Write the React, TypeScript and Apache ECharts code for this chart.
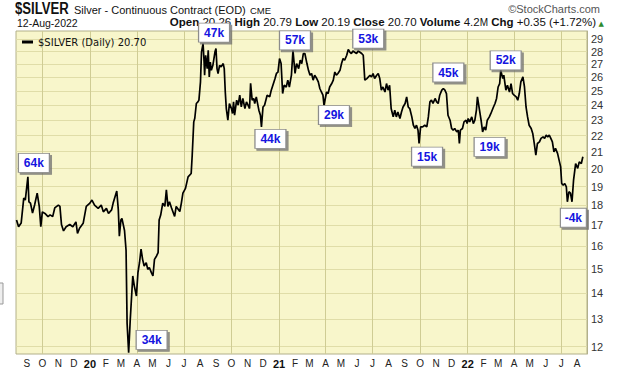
import React, { useEffect, useRef } from 'react';
import * as echarts from 'echarts';

const dates = [
  '2019-08-12','2019-08-16','2019-08-21','2019-08-26','2019-08-29','2019-09-03','2019-09-05','2019-09-08','2019-09-12','2019-09-16',
  '2019-09-21','2019-09-25','2019-09-28','2019-10-01','2019-10-06','2019-10-12','2019-10-16','2019-10-21','2019-10-25','2019-11-01',
  '2019-11-04','2019-11-07','2019-11-11','2019-11-16','2019-11-23','2019-11-29','2019-12-05','2019-12-08','2019-12-12','2019-12-19',
  '2019-12-25','2020-01-01','2020-01-05','2020-01-10','2020-01-17','2020-01-23','2020-01-27','2020-02-02','2020-02-06','2020-02-12',
  '2020-02-15','2020-02-22','2020-02-25','2020-02-27','2020-03-01','2020-03-03','2020-03-08','2020-03-11','2020-03-13','2020-03-16',
  '2020-03-19','2020-03-24','2020-03-27','2020-03-31','2020-04-03','2020-04-06','2020-04-09','2020-04-12','2020-04-15','2020-04-19',
  '2020-04-22','2020-04-25','2020-04-29','2020-05-02','2020-05-05','2020-05-09','2020-05-12','2020-05-14','2020-05-17','2020-05-21',
  '2020-05-25','2020-05-28','2020-05-31','2020-06-03','2020-06-07','2020-06-13','2020-06-16','2020-06-23','2020-06-26','2020-06-29',
  '2020-07-04','2020-07-09','2020-07-15','2020-07-17','2020-07-20','2020-07-22','2020-07-25','2020-07-28','2020-07-30','2020-08-02',
  '2020-08-04','2020-08-07','2020-08-09','2020-08-10','2020-08-12','2020-08-15','2020-08-17','2020-08-19','2020-08-21','2020-08-23',
  '2020-08-26','2020-08-30','2020-09-01','2020-09-03','2020-09-05','2020-09-08','2020-09-11','2020-09-15','2020-09-17','2020-09-19',
  '2020-09-21','2020-09-24','2020-09-27','2020-10-01','2020-10-03','2020-10-05','2020-10-07','2020-10-11','2020-10-14','2020-10-17',
  '2020-10-20','2020-10-23','2020-10-27','2020-10-30','2020-11-02','2020-11-05','2020-11-07','2020-11-10','2020-11-13','2020-11-15',
  '2020-11-18','2020-11-23','2020-11-26','2020-11-28','2020-12-01','2020-12-04','2020-12-09','2020-12-14','2020-12-17','2020-12-24',
  '2020-12-27','2020-12-30','2021-01-02','2021-01-05','2021-01-08','2021-01-11','2021-01-15','2021-01-18','2021-01-21','2021-01-25',
  '2021-01-28','2021-02-01','2021-02-04','2021-02-08','2021-02-11','2021-02-14','2021-02-17','2021-02-20','2021-02-24','2021-02-27',
  '2021-03-02','2021-03-05','2021-03-08','2021-03-11','2021-03-15','2021-03-18','2021-03-21','2021-03-24','2021-03-27','2021-03-29',
  '2021-04-03','2021-04-06','2021-04-09','2021-04-13','2021-04-16','2021-04-19','2021-04-22','2021-04-25','2021-04-29','2021-05-02',
  '2021-05-05','2021-05-08','2021-05-12','2021-05-15','2021-05-18','2021-05-21','2021-05-24','2021-05-31','2021-06-03','2021-06-06',
  '2021-06-10','2021-06-13','2021-06-16','2021-06-20','2021-06-26','2021-06-29','2021-07-02','2021-07-05','2021-07-09','2021-07-12',
  '2021-07-15','2021-07-18','2021-07-21','2021-07-25','2021-07-28','2021-07-31','2021-08-03','2021-08-06','2021-08-10','2021-08-13',
  '2021-08-16','2021-08-19','2021-08-23','2021-08-26','2021-08-29','2021-09-02','2021-09-05','2021-09-08','2021-09-11','2021-09-15',
  '2021-09-18','2021-09-21','2021-09-24','2021-09-27','2021-09-29','2021-10-02','2021-10-06','2021-10-10','2021-10-14','2021-10-17',
  '2021-10-20','2021-10-23','2021-10-26','2021-10-30','2021-11-02','2021-11-05','2021-11-08','2021-11-12','2021-11-15','2021-11-18',
  '2021-11-21','2021-11-24','2021-11-28','2021-12-01','2021-12-04','2021-12-07','2021-12-11','2021-12-14','2021-12-16','2021-12-18',
  '2021-12-22','2021-12-25','2021-12-29','2021-12-31','2022-01-02','2022-01-05','2022-01-09','2022-01-12','2022-01-15','2022-01-18',
  '2022-01-20','2022-01-23','2022-01-27','2022-01-30','2022-02-02','2022-02-05','2022-02-08','2022-02-12','2022-02-15','2022-02-20',
  '2022-02-23','2022-02-26','2022-03-01','2022-03-04','2022-03-06','2022-03-10','2022-03-12','2022-03-16','2022-03-19','2022-03-23',
  '2022-03-26','2022-03-29','2022-04-01','2022-04-05','2022-04-08','2022-04-11','2022-04-14','2022-04-18','2022-04-21','2022-04-24',
  '2022-04-27','2022-04-30','2022-05-04','2022-05-07','2022-05-10','2022-05-13','2022-05-16','2022-05-20','2022-05-23','2022-05-27',
  '2022-05-30','2022-06-02','2022-06-05','2022-06-08','2022-06-11','2022-06-14','2022-06-17','2022-06-20','2022-06-24','2022-06-27',
  '2022-06-30','2022-07-02','2022-07-05','2022-07-08','2022-07-11','2022-07-13','2022-07-16','2022-07-19','2022-07-22','2022-07-25',
  '2022-07-29','2022-08-02','2022-08-05','2022-08-09','2022-08-12'
];

const prices = [
  17.26,16.93,17.11,18.38,18.28,19.54,18.19,18.12,17.61,18.02,
  18.65,17.95,16.93,17.67,17.59,17.43,17.52,17.43,17.87,18.02,
  17.95,17.04,16.73,16.93,17.04,16.93,17.17,16.61,16.86,17.10,
  17.95,18.12,18.28,18.02,17.85,18.02,17.67,17.85,17.59,17.77,
  18.12,18.76,17.77,16.48,17.26,17.34,16.75,15.82,12.83,11.79,
  12.93,14.70,14.28,13.88,14.84,15.27,15.88,15.42,15.13,15.27,
  14.98,15.06,14.84,14.70,15.42,15.57,15.72,17.26,17.51,18.12,
  17.95,18.82,17.95,18.19,17.87,17.44,17.95,17.69,18.12,18.65,
  18.90,19.54,19.73,20.79,22.88,23.12,24.12,24.23,24.35,25.66,
  27.96,28.65,27.17,26.16,27.70,26.66,28.10,26.03,27.17,26.53,
  26.91,27.96,28.24,26.66,26.29,26.91,26.79,27.05,26.66,24.93,
  23.77,22.99,24.12,23.77,23.44,24.23,23.32,24.35,24.00,24.70,
  23.88,24.47,23.77,24.23,24.00,23.77,25.56,24.35,24.47,24.12,
  24.58,23.66,23.32,22.55,23.88,24.00,24.70,24.58,25.06,25.87,
  26.29,26.40,27.44,27.05,24.82,25.42,25.29,25.79,25.29,26.16,
  28.10,26.29,27.05,26.66,27.31,27.05,27.84,27.84,27.05,26.53,
  26.16,26.29,25.79,26.16,25.91,25.66,25.18,24.93,24.70,24.00,
  24.93,24.82,25.29,25.54,25.79,26.40,26.16,26.29,26.53,27.05,
  27.44,27.31,27.70,28.16,27.96,27.84,28.04,27.84,28.04,27.96,
  27.84,27.70,25.79,25.91,26.16,26.03,26.29,25.91,26.16,26.29,
  25.91,25.06,25.29,24.93,25.54,25.06,25.42,23.77,23.21,23.66,
  23.21,23.54,23.10,23.54,23.88,24.12,24.58,23.88,23.77,23.21,
  22.66,22.45,22.66,22.34,21.50,22.55,22.55,22.66,22.55,23.21,
  24.23,24.35,24.12,24.47,24.23,24.12,24.70,25.06,25.18,25.06,
  24.82,23.32,22.99,22.45,22.34,22.45,22.23,22.34,21.50,22.34,
  22.45,22.88,22.99,22.77,23.10,22.88,23.21,22.77,22.99,23.66,
  24.58,23.88,22.99,22.23,22.55,22.34,22.99,23.21,23.44,23.88,
  24.12,24.47,25.29,25.54,26.53,25.91,26.16,25.06,25.42,24.93,
  25.54,24.82,24.70,24.58,24.35,24.82,25.66,26.03,25.29,23.88,
  23.21,22.66,22.45,22.13,21.50,20.79,21.50,21.60,21.82,21.92,
  21.82,22.02,21.92,22.02,21.82,21.60,20.99,21.20,20.90,20.50,
  20.11,19.17,19.08,19.17,18.99,18.19,18.72,18.65,18.19,19.36,
  20.30,20.02,20.40,20.30,20.70
];

const yTickLabels = [12, 13, 14, 15, 16, 17, 18, 19, 20, 21, 22, 23, 24, 25, 26, 27, 28, 29];
const monthLetters = ['J', 'F', 'M', 'A', 'M', 'J', 'J', 'A', 'S', 'O', 'N', 'D'];

const annDates = ['2019-09-03', '2020-03-16', '2020-08-07', '2020-11-28', '2021-01-28', '2021-03-29', '2021-05-15', '2021-09-29', '2021-11-15', '2022-01-30', '2022-03-06', '2022-07-13'];
const annPrices = [19.54, 11.79, 28.65, 22.55, 28.10, 24.00, 28.16, 21.50, 25.18, 22.23, 26.53, 18.19];
const annLabels = ['64k', '34k', '47k', '44k', '57k', '29k', '53k', '15k', '45k', '19k', '52k', '-4k'];
// layout only: box offsets from the anchor point (px)
const annOffsets = [[6, -14], [23, -13], [11, -11], [9, 12], [2, -10], [10, 10], [20, -11], [8, 13], [5, -16], [7, 15], [5, -10], [6, 16]];

const ts = (s: string) => {
  const [y, m, d] = s.split('-').map(Number);
  return new Date(y, m - 1, d).getTime();
};

export default function App() {
  const ref = useRef<HTMLDivElement>(null);
  useEffect(() => {
    const chart = echarts.init(ref.current as HTMLDivElement, null, { renderer: 'svg' });
    const monthStarts: number[] = [];
    const quarterStarts: number[] = [];
    const first = new Date(2019, 8, 1).getTime();
    const last = new Date(2022, 7, 1).getTime();
    for (let y = 2019; y <= 2022; y++) {
      for (let m = 0; m < 12; m++) {
        const t = new Date(y, m, 1).getTime();
        if (t >= first && t <= last) {
          monthStarts.push(t);
          if (m % 3 === 0) quarterStarts.push(t);
        }
      }
    }
    const font = 'Liberation Sans, Arial, sans-serif';
    chart.setOption({
      animation: false,
      backgroundColor: '#ffffff',
      textStyle: { fontFamily: font },
      grid: {
        left: 16, right: 33, top: 31, bottom: 22, show: true,
        backgroundColor: '#F8F6CB', borderColor: '#B2B08A', borderWidth: 1,
      },
      legend: {
        left: 17, top: 32, icon: 'rect', itemWidth: 11, itemHeight: 3, itemGap: 4,
        textStyle: { fontFamily: 'DejaVu Sans, Verdana, sans-serif', fontSize: 10, color: '#111' },
        data: [{ name: '$SILVER (Daily) 20.70', itemStyle: { color: '#000' } }],
      },
      xAxis: {
        type: 'value',
        min: new Date(2019, 7, 11).getTime(),
        max: new Date(2022, 7, 20).getTime(),
        axisLine: { show: false },
        axisTick: { show: false, customValues: quarterStarts },
        splitLine: { show: true, lineStyle: { color: '#CFCC94', width: 1 } },
        axisLabel: {
          customValues: monthStarts,
          interval: 0,
          hideOverlap: false,
          showMinLabel: true,
          showMaxLabel: true,
          fontSize: 10,
          color: '#222',
          margin: 4,
          formatter: (v: number) => {
            const d = new Date(v);
            if (d.getMonth() === 0) return '{yr|' + String(d.getFullYear()).slice(2) + '}';
            return monthLetters[d.getMonth()];
          },
          rich: { yr: { fontWeight: 'bold', fontSize: 11, color: '#111', fontFamily: font } },
        },
      },
      yAxis: {
        type: 'log',
        logBase: 10,
        position: 'right',
        min: 11.75,
        max: 29.7,
        axisLine: { show: true, lineStyle: { color: '#B2B08A' } },
        axisTick: { show: false, customValues: yTickLabels },
        splitLine: { show: true, lineStyle: { color: '#E0DDA8', width: 1 } },
        axisLabel: { customValues: yTickLabels, fontSize: 11, color: '#333', margin: 4, showMinLabel: true, showMaxLabel: true },
      },
      series: [
        {
          type: 'line',
          name: '$SILVER (Daily) 20.70',
          data: dates.map((d, i) => [ts(d), prices[i]]),
          showSymbol: false,
          symbol: 'none',
          lineStyle: { color: '#000', width: 1.7 },
          itemStyle: { color: '#000' },
          markPoint: {
            symbol: 'rect',
            symbolSize: [31, 19],
            itemStyle: {
              color: '#ffffff', borderColor: '#8C8C8C', borderWidth: 1,
              shadowColor: 'rgba(110,110,110,0.75)', shadowOffsetX: 2, shadowOffsetY: 2, shadowBlur: 0,
            },
            label: {
              show: true, position: 'inside', color: '#1515E0', fontWeight: 'bold', fontSize: 12,
              fontFamily: font, formatter: (p: any) => p.name,
            },
            data: annLabels.map((l, i) => ({
              name: l,
              coord: [ts(annDates[i]), annPrices[i]],
              symbolOffset: annOffsets[i],
              symbolSize: l === '-4k' ? [26, 19] : [31, 19],
            })),
          },
        },
      ],
      graphic: [
        { type: 'text', x: 15, y: 1, scaleX: 0.82, style: { text: '$SILVER', font: 'bold 16px "Liberation Sans", Arial', fill: '#111' } },
        { type: 'text', x: 74, y: 4, style: { text: 'Silver - Continuous Contract (EOD)', font: '11px "Liberation Sans", Arial', fill: '#111' } },
        { type: 'text', x: 250, y: 5, style: { text: 'CME', font: '9.5px "Liberation Sans", Arial', fill: '#111' } },
        { type: 'text', right: 20, top: 3, style: { text: '©StockCharts.com', font: '11px "Liberation Sans", Arial', fill: '#555' } },
        { type: 'text', x: 17, y: 17, style: { text: '12-Aug-2022', font: '10.5px "Liberation Sans", Arial', fill: '#111' } },
        {
          type: 'text', right: 24, top: 16,
          style: {
            text: '{b|Open} 20.26 {b|High} 20.79 {b|Low} 20.19 {b|Close} 20.70 {b|Volume} 4.2{s|M} {b|Chg} +0.35 (+1.72%)',
            font: '11.5px "Liberation Sans", Arial', fill: '#111',
            rich: {
              b: { fontWeight: 'bold', fontSize: 11.5, fontFamily: font, fill: '#111' },
              s: { fontSize: 10, fontFamily: font, fill: '#111' },
            },
          },
        },
        { type: 'text', right: 16, top: 20, style: { text: '▲', font: '7px "DejaVu Sans"', fill: '#2E8B2E' } },
        { type: 'rect', shape: { x: -4, y: 283, width: 7, height: 21 }, style: { fill: '#EEEEEE', stroke: '#999999', lineWidth: 1 } },
      ],
    });
    return () => chart.dispose();
  }, []);
  return <div ref={ref} style={{ position: 'absolute', left: 0, top: 0, width: 620, height: 376 }} />;
}
